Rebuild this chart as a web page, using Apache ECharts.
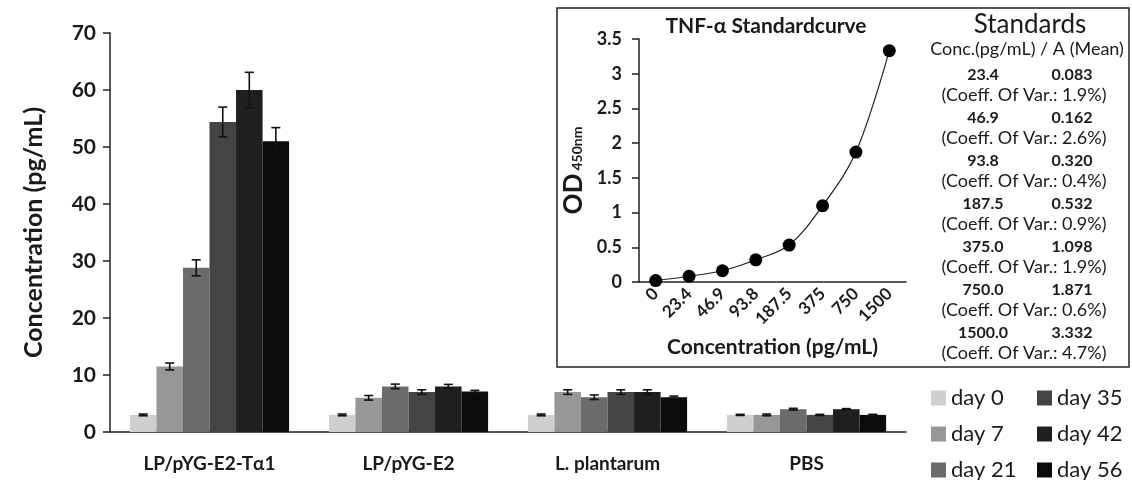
<!DOCTYPE html>
<html>
<head>
<meta charset="utf-8">
<script src="https://cdn.jsdelivr.net/npm/echarts@6/dist/echarts.min.js"></script>
<style>
  html, body { margin: 0; padding: 0; background: #fff; }
  #main { width: 1132px; height: 480px; }
</style>
</head>
<body>
<div id="main"></div>
<script>
// groups on the x axis
const categories = ['LP/pYG-E2-Tα1', 'LP/pYG-E2', 'L. plantarum', 'PBS'];
const days = ['day 0', 'day 7', 'day 21', 'day 35', 'day 42', 'day 56'];
const dayColors = ['#cfcfcf', '#979797', '#6b6b6b', '#444444', '#1f1f1f', '#0b0b0b'];

// mean concentration (pg/mL) per day, one value per group
const day0 = [3.0, 3.0, 3.0, 3.0];
const day7 = [11.5, 6.0, 7.0, 3.0];
const day21 = [28.8, 8.0, 6.1, 4.0];
const day35 = [54.4, 7.0, 7.0, 3.0];
const day42 = [60.0, 8.0, 7.0, 4.0];
const day56 = [51.0, 7.1, 6.1, 3.0];

// error (+/-)
const err0 = [0.15, 0.15, 0.15, 0.1];
const err7 = [0.6, 0.4, 0.4, 0.15];
const err21 = [1.4, 0.4, 0.4, 0.15];
const err35 = [2.6, 0.4, 0.4, 0.1];
const err42 = [3.1, 0.35, 0.4, 0.1];
const err56 = [2.4, 0.2, 0.2, 0.1];

const yTicks = [0, 70, 10]; // min, max, interval

// standard curve (inset)
const stdLabels = ['0', '23.4', '46.9', '93.8', '187.5', '375', '750', '1500'];
const stdOD = [0.02, 0.083, 0.162, 0.320, 0.532, 1.098, 1.871, 3.332];

// standards table
const stdConc = ['23.4', '46.9', '93.8', '187.5', '375.0', '750.0', '1500.0'];
const stdMean = ['0.083', '0.162', '0.320', '0.532', '1.098', '1.871', '3.332'];
const stdCv = ['1.9%', '2.6%', '0.4%', '0.9%', '1.9%', '0.6%', '4.7%'];

const values = [day0, day7, day21, day35, day42, day56];
const errors = [err0, err7, err21, err35, err42, err56];

const FONT = 'Lato';
const INK = '#1a1a1a';

let chart = echarts.init(document.getElementById('main'));

let series = [];
days.forEach(function (d, k) {
  series.push({
    name: d,
    type: 'bar',
    xAxisIndex: 0,
    yAxisIndex: 0,
    barGap: '0%',
    barCategoryGap: '20%',
    itemStyle: { color: dayColors[k] },
    data: values[k]
  });
});
// error bars drawn on top of each bar
days.forEach(function (d, k) {
  series.push({
    type: 'custom',
    xAxisIndex: 0,
    yAxisIndex: 0,
    z: 5,
    silent: true,
    data: values[k].map(function (v, i) { return [i, v, errors[k][i]]; }),
    renderItem: function (params, api) {
      let i = api.value(0), v = api.value(1), e = api.value(2);
      let band = api.size([1, 0])[0];
      let bw = band * 0.8 / 6;
      let x = api.coord([i, v])[0] + (k - 2.5) * bw;
      let yt = api.coord([i, v + e])[1];
      let yb = api.coord([i, v - e])[1];
      let cap = 4.5;
      let st = { stroke: '#111', lineWidth: 1.6 };
      return {
        type: 'group',
        children: [
          { type: 'line', shape: { x1: x, y1: yt, x2: x, y2: yb }, style: st },
          { type: 'line', shape: { x1: x - cap, y1: yt, x2: x + cap, y2: yt }, style: st },
          { type: 'line', shape: { x1: x - cap, y1: yb, x2: x + cap, y2: yb }, style: st }
        ]
      };
    }
  });
});
// inset standard curve
series.push({
  type: 'line',
  xAxisIndex: 1,
  yAxisIndex: 1,
  smooth: 0.35,
  symbol: 'circle',
  symbolSize: 13,
  z: 20,
  itemStyle: { color: '#000' },
  lineStyle: { color: '#222', width: 1.2 },
  data: stdOD
});

// table texts for the inset
let tableTexts = [
  { type: 'text', z: 20, style: { x: 1030, y: 25, text: 'Standards', fill: INK, font: '26px ' + FONT, textAlign: 'center', textVerticalAlign: 'middle' } },
  { type: 'text', z: 20, style: { x: 1027, y: 49, text: 'Conc.(pg/mL) / A (Mean)', fill: INK, font: '18px ' + FONT, textAlign: 'center', textVerticalAlign: 'middle' } }
];
stdConc.forEach(function (c, i) {
  let y = 75 + i * 43;
  tableTexts.push({ type: 'text', z: 20, style: { x: 983, y: y, text: c, fill: INK, font: 'bold 16px ' + FONT, textAlign: 'center', textVerticalAlign: 'middle' } });
  tableTexts.push({ type: 'text', z: 20, style: { x: 1072, y: y, text: stdMean[i], fill: INK, font: 'bold 16px ' + FONT, textAlign: 'center', textVerticalAlign: 'middle' } });
  tableTexts.push({ type: 'text', z: 20, style: { x: 1024, y: y + 20, text: '(Coeff. Of Var.: ' + stdCv[i] + ')', fill: INK, font: '18px ' + FONT, textAlign: 'center', textVerticalAlign: 'middle' } });
});

let legendBase = {
  orient: 'vertical',
  top: 387,
  height: 100,
  padding: 0,
  icon: 'rect', itemWidth: 15, itemHeight: 15, itemGap: 14,
  textStyle: { fontSize: 22, lineHeight: 21, color: INK, fontFamily: FONT }
};

let option = {
  animation: false,
  textStyle: { fontFamily: FONT, color: INK },
  legend: [
    Object.assign({}, legendBase, { data: days.slice(0, 3), left: 931 }),
    Object.assign({}, legendBase, { data: days.slice(3), left: 1037 })
  ],
  grid: [
    { left: 110, right: 226, top: 33, bottom: 48 },
    { left: 639, top: 39, width: 267, height: 243 }
  ],
  xAxis: [
    {
      type: 'category',
      gridIndex: 0,
      data: categories,
      axisLine: { lineStyle: { color: '#222', width: 1.5 } },
      axisTick: { length: 6, lineStyle: { color: '#222', width: 1.5 } },
      axisLabel: { fontSize: 19, fontWeight: 'bold', color: INK, margin: 22 }
    },
    {
      type: 'category',
      gridIndex: 1,
      data: stdLabels,
      name: 'Concentration (pg/mL)',
      nameLocation: 'middle',
      nameGap: 55,
      nameTextStyle: { fontSize: 21, fontWeight: 'bold', color: INK },
      axisLine: { lineStyle: { color: '#222', width: 1.5 } },
      axisTick: { length: 5, lineStyle: { color: '#222', width: 1.5 } },
      axisLabel: { rotate: 45, fontSize: 17, fontWeight: 'bold', color: INK, margin: 9 }
    }
  ],
  yAxis: [
    {
      type: 'value',
      gridIndex: 0,
      min: yTicks[0], max: yTicks[1], interval: yTicks[2],
      name: 'Concentration (pg/mL)',
      nameLocation: 'middle',
      nameGap: 64,
      nameTextStyle: { fontSize: 25, fontWeight: 'bold', color: INK },
      splitLine: { show: false },
      axisLine: { show: true, lineStyle: { color: '#222', width: 1.5 } },
      axisTick: { show: true, length: 7, lineStyle: { color: '#222', width: 1.5 } },
      axisLabel: { fontSize: 21, fontWeight: 'bold', color: INK, margin: 14 }
    },
    {
      type: 'value',
      gridIndex: 1,
      min: 0, max: 3.5, interval: 0.5,
      name: '{a|OD}{b|450nm}',
      nameLocation: 'middle',
      nameGap: 52,
      nameTextStyle: {
        rich: {
          a: { fontSize: 26, fontWeight: 'bold', color: INK, fontFamily: FONT },
          b: { fontSize: 14, fontWeight: 'bold', color: INK, fontFamily: FONT, padding: [7, 20, 0, 3] }
        }
      },
      splitLine: { show: false },
      axisLine: { show: true, lineStyle: { color: '#222', width: 1.5 } },
      axisTick: { show: true, length: 7, lineStyle: { color: '#222', width: 1.5 } },
      axisLabel: { fontSize: 18, fontWeight: 'bold', color: INK, margin: 17 }
    }
  ],
  graphic: [
    {
      type: 'rect', z: 0,
      shape: { x: 557, y: 8, width: 572, height: 359 },
      style: { fill: '#fff', stroke: '#222', lineWidth: 1.5 }
    },
    {
      type: 'text', z: 20,
      style: { x: 766, y: 26, text: 'TNF-α Standardcurve', fill: INK, font: 'bold 21px ' + FONT, textAlign: 'center', textVerticalAlign: 'middle' }
    }
  ].concat(tableTexts),
  series: series
};

chart.setOption(option);
</script>
</body>
</html>
